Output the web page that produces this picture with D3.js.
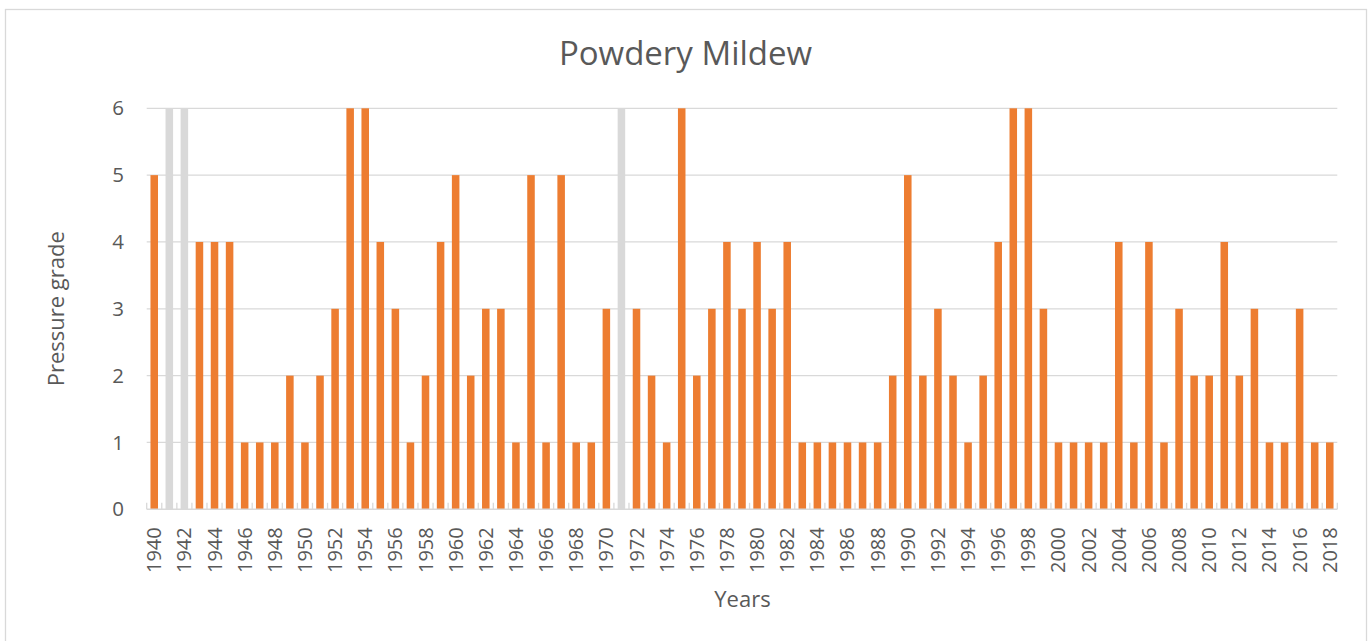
<!DOCTYPE html>
<html>
<head>
<meta charset="utf-8">
<script src="https://cdn.jsdelivr.net/npm/d3@7"></script>
<style>
  body { margin: 0; background: #fff; }
  svg text { font-family: "Open Sans", "Noto Sans", sans-serif; fill: #595959; }
</style>
</head>
<body>
<div id="chart"></div>
<script>
// categories
const years = d3.range(1940, 2019);
// pressure grade per year, null where there is no record
const pressure = [
  5, null, null, 4, 4, 4, 1, 1, 1, 2,
  1, 2, 3, 6, 6, 4, 3, 1, 2, 4,
  5, 2, 3, 3, 1, 5, 1, 5, 1, 1,
  3, null, 3, 2, 1, 6, 2, 3, 4, 3,
  4, 3, 4, 1, 1, 1, 1, 1, 1, 2,
  5, 2, 3, 2, 1, 2, 4, 6, 6, 3,
  1, 1, 1, 1, 4, 1, 4, 1, 3, 2,
  2, 4, 2, 3, 1, 1, 3, 1, 1
];
// years without data, drawn as grey full-height bars
const missingYears = [1941, 1942, 1971];
const missingValue = 6;
const yTicks = [0, 1, 2, 3, 4, 5, 6];
const xTickYears = years.filter(y => (y - 1940) % 2 === 0);

const width = 1371, height = 641;
const margin = { top: 108.3, right: 33.7, bottom: 131.7, left: 146.7 };
const orange = "#ED7D31", grey = "#D9D9D9", line = "#D9D9D9";

const svg = d3.select("#chart").append("svg")
  .attr("width", width)
  .attr("height", height);

// outer frame
svg.append("rect")
  .attr("x", 5.5).attr("y", 9.5)
  .attr("width", 1361).attr("height", 660)
  .attr("fill", "none")
  .attr("stroke", line)
  .attr("stroke-width", 1.3);

const x = d3.scaleBand()
  .domain(years)
  .range([margin.left, width - margin.right])
  .paddingInner(0.5)
  .paddingOuter(0.25);

const y = d3.scaleLinear()
  .domain([0, 6])
  .range([height - margin.bottom, margin.top]);

// gridlines
svg.append("g")
  .selectAll("line")
  .data(yTicks.filter(d => d > 0))
  .join("line")
  .attr("x1", margin.left)
  .attr("x2", width - margin.right)
  .attr("y1", d => y(d))
  .attr("y2", d => y(d))
  .attr("stroke", line)
  .attr("stroke-width", 1.3);

// y tick labels
svg.append("g")
  .selectAll("text")
  .data(yTicks)
  .join("text")
  .attr("x", 124)
  .attr("y", d => y(d))
  .attr("dy", "0.35em")
  .attr("text-anchor", "end")
  .style("font-size", "20.5px")
  .text(d => d);

// missing years
svg.append("g")
  .selectAll("rect")
  .data(missingYears)
  .join("rect")
  .attr("x", d => x(d))
  .attr("width", x.bandwidth())
  .attr("y", y(missingValue))
  .attr("height", y(0) - y(missingValue))
  .attr("fill", grey);

// pressure bars
const data = years.map((yr, i) => ({ year: yr, value: pressure[i] }))
  .filter(d => d.value != null);

svg.append("g")
  .selectAll("rect")
  .data(data)
  .join("rect")
  .attr("x", d => x(d.year))
  .attr("width", x.bandwidth())
  .attr("y", d => y(d.value))
  .attr("height", d => y(0) - y(d.value))
  .attr("fill", orange);

// x axis line + inward tick marks at band boundaries
const x0 = margin.left, step = x.step();
const boundaries = d3.range(years.length + 1).map(i => x0 + i * step);
const axisY = y(0);

svg.append("line")
  .attr("x1", margin.left)
  .attr("x2", width - margin.right)
  .attr("y1", axisY).attr("y2", axisY)
  .attr("stroke", line)
  .attr("stroke-width", 1.5);

svg.append("g")
  .selectAll("line")
  .data(boundaries)
  .join("line")
  .attr("x1", d => d).attr("x2", d => d)
  .attr("y1", axisY).attr("y2", axisY - 6.5)
  .attr("stroke", line)
  .attr("stroke-width", 1.3);

// x tick labels, rotated
svg.append("g")
  .selectAll("text")
  .data(xTickYears)
  .join("text")
  .attr("transform", d => `translate(${x(d) + x.bandwidth() / 2},${axisY + 18}) rotate(-90)`)
  .attr("dy", "0.35em")
  .attr("text-anchor", "end")
  .style("font-size", "20px")
  .text(d => d);

// title
svg.append("text")
  .attr("x", width / 2)
  .attr("y", 65)
  .attr("text-anchor", "middle")
  .style("font-size", "33px")
  .text("Powdery Mildew");

// axis titles
svg.append("text")
  .attr("transform", `translate(64,${(y(0) + y(6)) / 2}) rotate(-90)`)
  .attr("text-anchor", "middle")
  .style("font-size", "22px")
  .text("Pressure grade");

svg.append("text")
  .attr("x", (margin.left + width - margin.right) / 2 + 0.5)
  .attr("y", 607)
  .attr("text-anchor", "middle")
  .style("font-size", "22px")
  .text("Years");
</script>
</body>
</html>
